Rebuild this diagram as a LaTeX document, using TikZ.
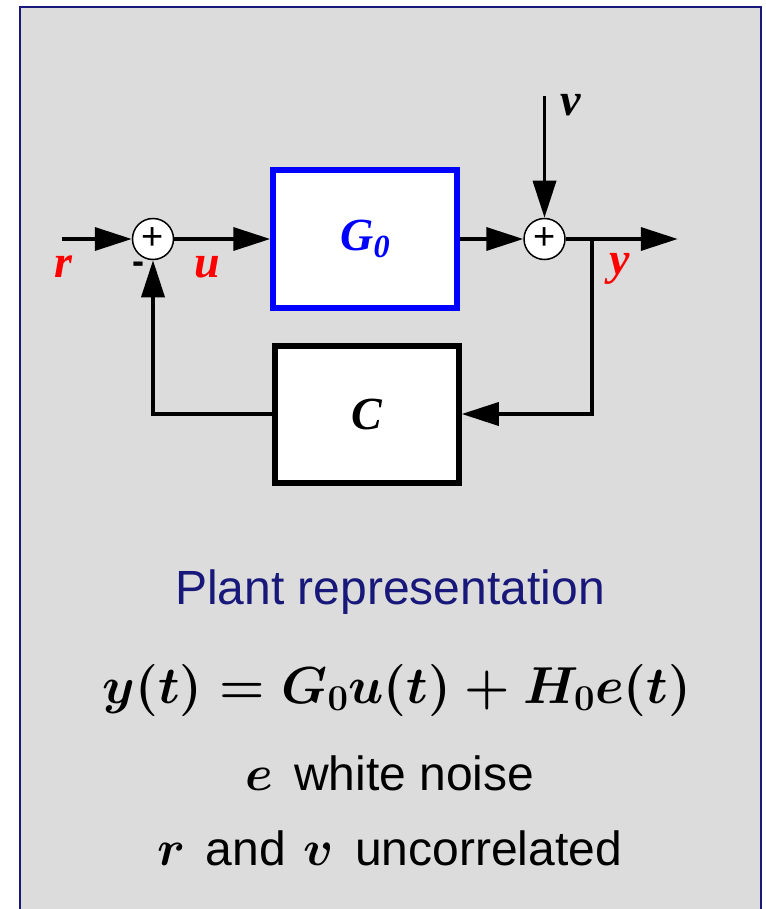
\documentclass[tikz,border=0pt]{standalone}
\usepackage{fix-cm}
\usepackage{fontspec}
\newfontfamily\serifbi{Liberation Serif}
\newfontfamily\sansfnt{Liberation Sans}
\usepackage{xcolor}
\usepackage{tikz}
\usetikzlibrary{arrows.meta,positioning}
\definecolor{panelgray}{RGB}{220,220,220}
\definecolor{framenavy}{RGB}{24,24,122}

\begin{document}
\begin{tikzpicture}[
  x=1pt, y=-1pt,
  >={Triangle[length=37pt,width=23pt]},
  lbl/.style={
    font=\fontsize{46}{48}\selectfont\serifbi\bfseries\itshape,
    inner sep=0pt
  },
  sum/.style={
    draw,
    circle,
    fill=white,
    line width=1.5pt,
    minimum size=41pt,
    inner sep=0pt,
    font=\fontsize{38}{38}\selectfont\sansfnt
  },
  block/.style={
    draw,
    fill=white,
    line width=6pt,
    minimum width=184pt,
    minimum height=137pt,
    inner sep=0pt,
    font=\fontsize{46}{48}\selectfont\serifbi\bfseries\itshape
  },
  arrow/.style={->, line width=3.5pt},
  caption/.style={font=\fontsize{48}{50}\selectfont\sansfnt, inner sep=0pt}
]
  \useasboundingbox (0,0) rectangle (765,909);
  \draw[framenavy, line width=2pt, fill=panelgray] (20,7) rectangle (761,930);

  \node[sum] (sum1) at (153,239) {+};
  \node[block, draw=blue, text=blue, right=96pt of sum1] (g0) {G\textsubscript{0}};
  \node[sum, right=63pt of g0] (sum2) {+};
  \node[block, below=32pt of g0, xshift=1.5pt] (c) {C};

  \coordinate[left=70pt of sum1] (rin);
  \coordinate[above=122pt of sum2] (vin);
  \coordinate[right=112pt of sum2] (yout);
  \coordinate[right=26pt of sum2] (br);

  \draw[arrow] (rin) -- (sum1);
  \draw[arrow] (sum1) -- (g0);
  \draw[arrow] (g0) -- (sum2);
  \draw[arrow] (vin) -- (sum2);
  \draw[arrow] (sum2) -- (yout);
  \draw[arrow] (br) |- (c.east);
  \draw[arrow] (c.west) -| (sum1.south);

  \node[lbl, red] (rlbl) at (63,267) {r};
  \node[font=\fontsize{36}{36}\selectfont\sansfnt\bfseries, inner sep=0pt] (minus) at (138,268) {-};
  \node[lbl, red] (ulbl) at (207,267) {u};
  \node[lbl, red] (ylbl) at (620,269) {y};
  \node[lbl] (vlbl) at (571,105) {v};

  \node[caption, text=framenavy] (title) at (390,592) {Plant representation};
  \node[font=\fontsize{52}{56}\selectfont\boldmath] (eq) at (397,690) {$y(t) = G_0u(t) + H_0e(t)$};
  \node[caption] (noise) at (390,773) {{\fontsize{50}{50}\selectfont\boldmath$e$}\hspace{21pt}white noise};
  \node[caption] (uncorr) at (390,848) {{\fontsize{50}{50}\selectfont\boldmath$r$}\hspace{20pt}and\hspace{17pt}{\fontsize{50}{50}\selectfont\boldmath$v$}\hspace{22pt}uncorrelated};
\end{tikzpicture}
\end{document}
